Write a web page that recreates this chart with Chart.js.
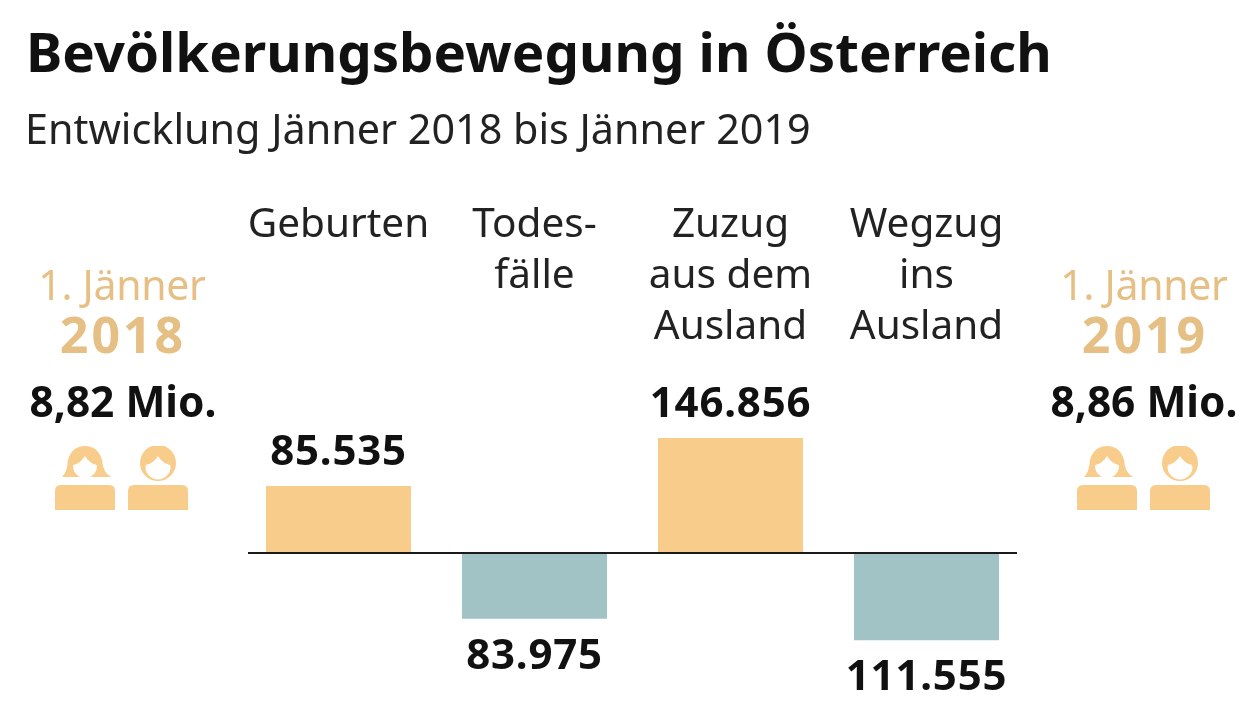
<!DOCTYPE html>
<html lang="de">
<head>
<meta charset="utf-8">
<title>Bevölkerungsbewegung in Österreich</title>
<script src="https://cdn.jsdelivr.net/npm/chart.js@4"></script>
<style>
  html, body { margin: 0; background: #fff; }
  #wrap { position: relative; width: 1260px; height: 712px; overflow: hidden; font-family: "Noto Sans", sans-serif; color: #111; }
  canvas { position: absolute; left: 0; top: 0; }
  .t { position: absolute; white-space: nowrap; line-height: 1; }
  .c { transform: translateX(-50%); }
  .year { color: #e6bf84; }
  svg { position: absolute; }
</style>
</head>
<body>
<div id="wrap">
  <canvas id="chart" width="1260" height="712"></canvas>
  <div class="t" style="left:26px;top:24px;font-size:54.6px;font-weight:700">Bevölkerungsbewegung in Österreich</div>
  <div class="t" style="left:25px;top:108px;font-size:41.3px;color:#222">Entwicklung Jänner 2018 bis Jänner 2019</div>

  <div class="t c year" style="left:122px;top:264px;font-size:41px;font-weight:400;letter-spacing:-0.3px">1. Jänner</div>
  <div class="t c year" style="left:123px;top:309px;font-size:50px;font-weight:700;letter-spacing:3px">2018</div>
  <div class="t c" style="left:123px;top:380px;font-size:42.4px;font-weight:700">8,82 Mio.</div>

  <div class="t c year" style="left:1144px;top:264px;font-size:41px;font-weight:400;letter-spacing:-0.3px">1. Jänner</div>
  <div class="t c year" style="left:1145px;top:309px;font-size:50px;font-weight:700;letter-spacing:3px">2019</div>
  <div class="t c" style="left:1144px;top:380px;font-size:42.4px;font-weight:700">8,86 Mio.</div>

  <svg width="0" height="0">
    <defs>
      <g id="people" fill="#f8cc8a">
        <path d="M7 31 Q12 27 13 14 Q17 0 30 0 Q43 0 47 14 Q48 27 56 31 Z"/>
        <path d="M18 20 A12 12 0 0 0 42 20 L41.5 19 Q34 17 30 10 Q26 17 18.5 19 Z" fill="#fff"/>
        <path d="M0 64 V45 Q0 39 6 39 H54 Q60 39 60 45 V64 Z"/>
        <circle cx="103" cy="17" r="18"/>
        <path d="M90.5 21 A12.5 12.5 0 0 0 115.5 21 L115 19 Q107 17 103 10 Q99 17 91 19 Z" fill="#fff"/>
        <path d="M73 64 V45 Q73 39 79 39 H127 Q133 39 133 45 V64 Z"/>
      </g>
    </defs>
  </svg>
  <svg style="left:55px;top:446px" width="134" height="65"><use href="#people"/></svg>
  <svg style="left:1077px;top:446px" width="134" height="65"><use href="#people"/></svg>
</div>

<script>
const categories = [["Geburten", "", ""], ["Todes-", "fälle", ""], ["Zuzug", "aus dem", "Ausland"], ["Wegzug", "ins", "Ausland"]];
const values = [85535, -83975, 146856, -111555];
const barColors = ["#f8cc8a", "#a1c3c5", "#f8cc8a", "#a1c3c5"];

const valueLabels = {
  id: "valueLabels",
  afterDatasetsDraw(chart) {
    const { ctx } = chart;
    ctx.save();
    ctx.font = "700 42px 'Noto Sans'";
    ctx.letterSpacing = "0.8px";
    ctx.fillStyle = "#111";
    ctx.textAlign = "center";
    ctx.textBaseline = "alphabetic";
    chart.getDatasetMeta(0).data.forEach((bar, i) => {
      const text = Math.abs(values[i]).toLocaleString("de-DE");
      const y = values[i] >= 0 ? bar.y - 21 : bar.y + 50;
      ctx.fillText(text, bar.x, y);
    });
    ctx.restore();
  }
};

// Nulllinie ist kürzer als die Kategorienbreite
const zeroLine = {
  id: "zeroLine",
  afterDatasetsDraw(chart) {
    const { ctx, scales } = chart;
    const y = scales.y.getPixelForValue(0);
    ctx.save();
    ctx.strokeStyle = "#1a1a1a";
    ctx.lineWidth = 2;
    ctx.beginPath();
    ctx.moveTo(248, y);
    ctx.lineTo(1017, y);
    ctx.stroke();
    ctx.restore();
  }
};

new Chart(document.getElementById("chart"), {
  type: "bar",
  data: {
    labels: categories,
    datasets: [{
      data: values,
      backgroundColor: barColors,
      borderWidth: 0,
      barPercentage: 0.74,
      categoryPercentage: 1
    }]
  },
  options: {
    responsive: false,
    animation: false,
    layout: { padding: { left: 240.5, right: 235.5, top: 196.4, bottom: 33.7 } },
    plugins: { legend: { display: false }, tooltip: { enabled: false } },
    scales: {
      x: {
        position: "top",
        afterFit: (scale) => { scale.height = 200; },
        grid: { display: false, drawTicks: false },
        border: { display: false },
        ticks: {
          autoSkip: false,
          maxRotation: 0,
          padding: 43,
          color: "#222",
          font: { family: "'Noto Sans'", size: 40.5, lineHeight: 1.26 }
        }
      },
      y: {
        display: false,
        min: -160000,
        max: 200000
      }
    }
  },
  plugins: [valueLabels, zeroLine]
});
</script>
</body>
</html>
